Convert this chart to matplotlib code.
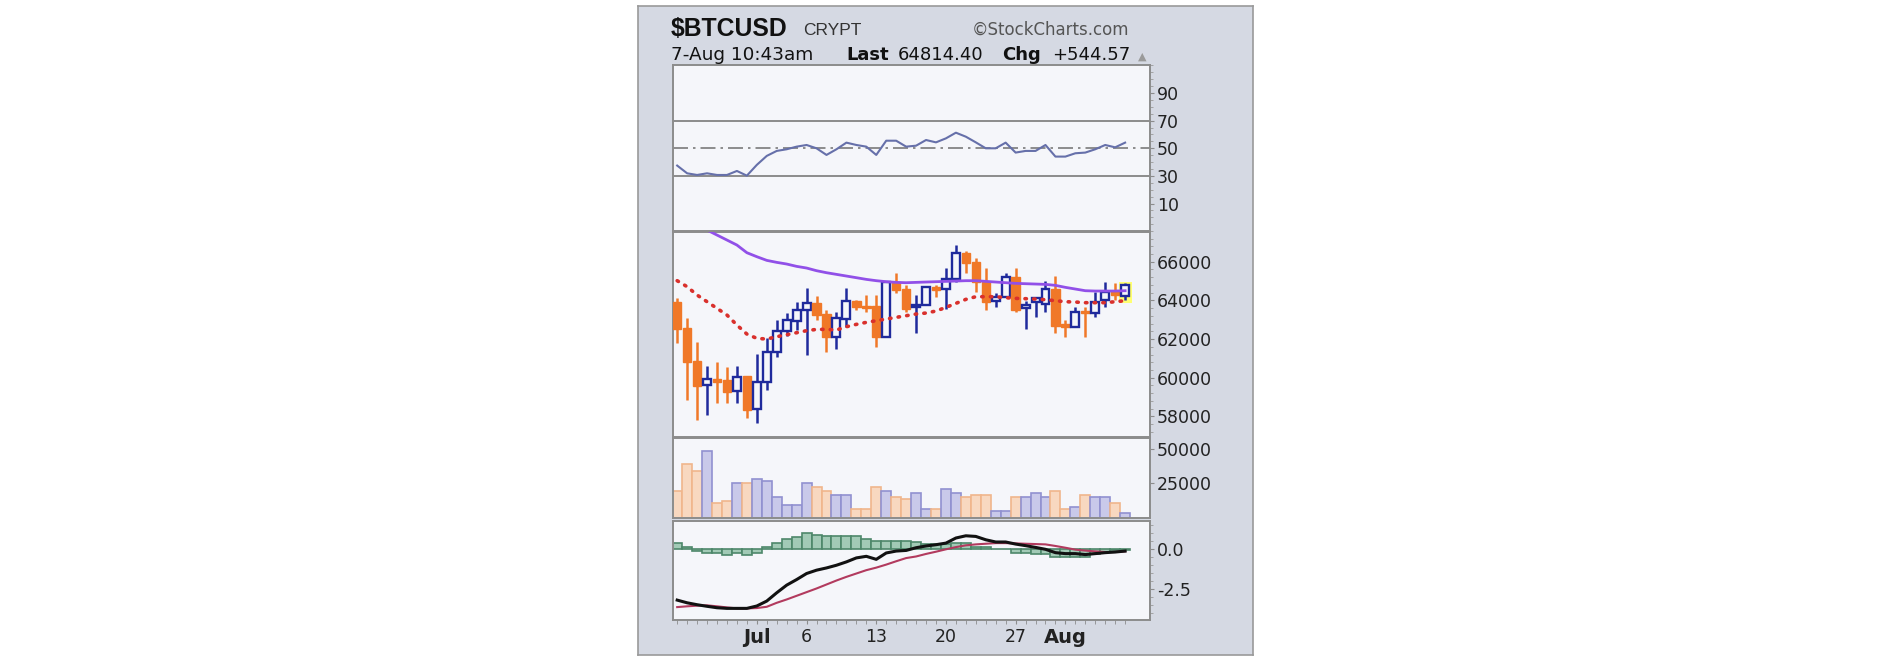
import matplotlib
matplotlib.use("Agg")
import matplotlib.pyplot as plt
import numpy as np
import pandas as pd
from matplotlib.patches import Rectangle
from matplotlib.ticker import FixedLocator, AutoMinorLocator, FuncFormatter

plt.rcParams["axes.unicode_minus"] = False
plt.rcParams["font.family"] = ["DejaVu Sans"]

# ---- data ----
dates = pd.date_range("2024-06-23", "2024-08-07", freq="D")

opens = [63931, 62552, 60880, 59621, 59932, 59880, 59328, 60087, 58380, 59794,
         61345, 62432, 62949, 63500, 63880, 63276, 62087, 63018, 63983, 63707,
         63707, 62087, 64931, 64569, 63638, 63759, 64673, 64587, 65104, 66466,
         65966, 64966, 63983, 64190, 65224, 63587, 63931, 63811, 64587, 62759,
         62638, 63449, 63362, 64018, 64483, 64230]
highs = [64104, 63069, 61863, 60604, 60794, 60570, 60604, 60087, 61225, 62035,
         62983, 63328, 63931, 64621, 64224, 63500, 63414, 64621, 64018, 64276,
         64276, 64966, 65431, 64793, 64276, 64673, 64793, 65655, 66862, 66569,
         66173, 65655, 64362, 65431, 65655, 63966, 64190, 65018, 65259, 62983,
         63673, 63673, 64414, 64931, 64880, 64900]
lows = [61776, 58846, 57811, 58070, 58673, 58673, 58673, 57897, 57639, 59363,
        61052, 62156, 62466, 61173, 62983, 61345, 61466, 62638, 63500, 63414,
        61570, 62087, 64362, 63414, 62294, 63759, 64190, 63552, 64931, 65397,
        64449, 63500, 63638, 64190, 63414, 62500, 63121, 63414, 62328, 62087,
        62638, 62087, 63121, 63638, 64018, 64018]
closes = [62500, 60828, 59587, 59932, 59794, 59277, 60052, 58328, 59794, 61345,
          62432, 62983, 63500, 63880, 63242, 62087, 63069, 63983, 63638, 63621,
          62087, 64931, 64535, 63552, 63759, 64673, 64535, 65104, 66466, 65948,
          64966, 63931, 64190, 65224, 63500, 63759, 64104, 64587, 62690, 62638,
          63414, 63362, 63931, 64449, 64270, 64814]

sma50 = [68328, 68069, 67810, 67638, 67379, 67121, 66862, 66466, 66259, 66069,
         65966, 65880, 65759, 65673, 65535, 65431, 65345, 65259, 65173, 65086,
         65018, 64966, 64931, 64914, 64931, 64949, 64966, 64983, 65000, 65018,
         65018, 64983, 64949, 64914, 64880, 64862, 64845, 64828, 64776, 64673,
         64587, 64500, 64483, 64483, 64483, 64500]
ema20 = [65017, 64707, 64276, 63931, 63587, 63242, 62725, 62259, 62035, 62000,
         62121, 62225, 62328, 62432, 62500, 62500, 62466, 62638, 62759, 62863,
         62949, 63035, 63121, 63207, 63293, 63345, 63449, 63638, 63845, 64052,
         64190, 64190, 64190, 64138, 64104, 64087, 64069, 64035, 63983, 63931,
         63914, 63880, 63880, 63880, 63931, 63983]

volume = [19521, 38560, 33981, 48441, 10845, 12291, 25305, 25305, 28438, 26992,
          15183, 9399, 9399, 25305, 22413, 19521, 16629, 16629, 6748, 6748,
          22413, 19521, 15183, 13737, 18075, 6507, 6507, 21208, 18075, 15183,
          16629, 16629, 5061, 5061, 15183, 15183, 18075, 15183, 19521, 6507,
          7953, 16629, 15183, 15183, 10845, 3615]

rsi = [37.5, 31.9, 30.7, 31.9, 30.7, 30.7, 33.6, 30.2, 38.0, 44.5,
       48.1, 49.3, 51.2, 52.4, 50.0, 45.2, 49.3, 54.1, 52.4, 51.2,
       45.2, 55.5, 55.5, 51.2, 51.9, 56.0, 54.3, 57.2, 61.3, 58.4,
       54.3, 50.0, 50.0, 54.1, 46.9, 48.1, 48.1, 52.4, 44.0, 44.0,
       46.4, 46.9, 49.3, 52.4, 50.7, 54.1]

macd = [-3.22, -3.39, -3.51, -3.61, -3.70, -3.74, -3.74, -3.74, -3.59, -3.28,
        -2.76, -2.28, -1.93, -1.55, -1.34, -1.20, -1.03, -0.82, -0.57, -0.47,
        -0.66, -0.26, -0.14, -0.10, 0.07, 0.18, 0.26, 0.36, 0.68, 0.82,
        0.78, 0.57, 0.43, 0.43, 0.30, 0.20, 0.09, -0.03, -0.24, -0.30,
        -0.30, -0.36, -0.30, -0.24, -0.20, -0.14]
signal = [-3.66, -3.61, -3.57, -3.55, -3.61, -3.68, -3.74, -3.74, -3.72, -3.64,
          -3.39, -3.18, -2.95, -2.72, -2.49, -2.24, -1.99, -1.76, -1.55, -1.34,
          -1.18, -0.99, -0.78, -0.58, -0.48, -0.32, -0.18, -0.03, 0.11, 0.22,
          0.28, 0.32, 0.36, 0.36, 0.34, 0.32, 0.30, 0.28, 0.18, 0.07,
          -0.05, -0.11, -0.16, -0.20, -0.20, -0.16]
hist = [0.39, 0.12, -0.14, -0.24, -0.24, -0.36, -0.24, -0.36, -0.24, 0.11,
        0.36, 0.64, 0.74, 0.99, 0.89, 0.78, 0.78, 0.78, 0.78, 0.64,
        0.49, 0.49, 0.49, 0.49, 0.45, 0.30, 0.30, 0.30, 0.35, 0.35,
        0.12, 0.12, 0.02, 0.02, -0.25, -0.25, -0.30, -0.30, -0.50, -0.50,
        -0.50, -0.50, -0.35, -0.20, -0.10, -0.05]

# ---- layout helpers (pixel boxes) ----
W, H = 1886, 662


def box(x0, y0, x1, y1):
    return [x0 / W, 1 - y1 / H, (x1 - x0) / W, (y1 - y0) / H]


PANEL_BG = "#f5f6fa"
FRAME_BG = "#d5d9e3"
EDGE = "#8c8c8c"
NAVY = "#1f2a9c"
ORANGE = "#f07828"

fig = plt.figure(figsize=(W / 100, H / 100), dpi=100)
fig.patch.set_facecolor("white")

frame = fig.add_axes(box(638, 6, 1253, 655))
frame.set_facecolor(FRAME_BG)
frame.set_xticks([])
frame.set_yticks([])
for s in frame.spines.values():
    s.set_color("#9a9a9a")
    s.set_linewidth(1.2)

X0, X1 = 672.7, 1150
ax_rsi = fig.add_axes(box(X0, 65.4, X1, 231.2))
ax_px = fig.add_axes(box(X0, 231.7, X1, 436.7))
ax_vol = fig.add_axes(box(X0, 437.7, X1, 518.2))
ax_macd = fig.add_axes(box(X0, 520.5, X1, 620))

n = len(closes)
idx = np.arange(n)

for ax in (ax_rsi, ax_px, ax_vol, ax_macd):
    ax.set_facecolor(PANEL_BG)
    ax.set_xlim(-0.45, 47.5)
    for s in ax.spines.values():
        s.set_color(EDGE)
        s.set_linewidth(1.4)
    ax.yaxis.tick_right()
    ax.tick_params(axis="y", which="major", direction="out", length=3, pad=2,
                   labelsize=12.5, colors="#8c8c8c", labelcolor="#222222")
    ax.tick_params(axis="y", which="minor", direction="out", length=2,
                   colors="#9a9a9a")
    ax.tick_params(axis="x", which="both", bottom=False, labelbottom=False)

# ---- RSI ----
ax_rsi.set_ylim(-10, 110)
ax_rsi.axhline(70, color=EDGE, lw=1.4)
ax_rsi.axhline(30, color=EDGE, lw=1.4)
ax_rsi.axhline(50, color="#7a7a7a", lw=1.2, ls=(0, (9, 3, 1.5, 3)))
ax_rsi.plot(idx, rsi, color="#6670aa", lw=1.5)
ax_rsi.yaxis.set_major_locator(FixedLocator([10, 30, 50, 70, 90]))
ax_rsi.yaxis.set_minor_locator(AutoMinorLocator(4))

# ---- price candles ----
ax_px.set_ylim(56949, 67552)
last = n - 1
ax_px.add_patch(Rectangle((last - 0.65, lows[last] - 150), 1.3,
                          highs[last] - lows[last] + 200,
                          facecolor="#ffff70", edgecolor="none", zorder=1))
for i in range(n):
    o, h, l, c = opens[i], highs[i], lows[i], closes[i]
    up = c > o
    col = NAVY if up else ORANGE
    ax_px.vlines(i, l, h, color=col, lw=1.8, zorder=2)
    lo = min(o, c)
    ht = max(abs(c - o), 40)
    if up:
        ax_px.bar(i, ht, bottom=lo, width=0.8, facecolor=PANEL_BG,
                  edgecolor=NAVY, lw=1.7, zorder=3)
    else:
        ax_px.bar(i, ht, bottom=lo, width=0.85, facecolor=ORANGE,
                  edgecolor=ORANGE, lw=1.0, zorder=3)

ax_px.plot(idx, sma50, color="#9150e8", lw=2.0, zorder=4)
ax_px.plot(idx, ema20, color="#d9302c", lw=2.6, ls=(0, (0.4, 2.0)),
           dash_capstyle="round", zorder=4)
ax_px.yaxis.set_major_locator(FixedLocator([58000, 60000, 62000, 64000, 66000]))
ax_px.yaxis.set_minor_locator(AutoMinorLocator(5))
ax_px.yaxis.set_major_formatter(FuncFormatter(lambda v, p: "%d" % v))

# ---- volume ----
ax_vol.set_ylim(0, 57800)
vface = ["#c9c9ea" if closes[i] > opens[i] else "#f8d8c0" for i in range(n)]
vedge = ["#9191d0" if closes[i] > opens[i] else "#f0b68c" for i in range(n)]
ax_vol.bar(idx, volume, width=1.0, color=vface, edgecolor=vedge, lw=1.2)
ax_vol.yaxis.set_major_locator(FixedLocator([25000, 50000]))
ax_vol.yaxis.set_minor_locator(FixedLocator([]))
ax_vol.yaxis.set_major_formatter(FuncFormatter(lambda v, p: "%d" % v))

# ---- MACD ----
ax_macd.set_ylim(-4.47, 1.78)
ax_macd.bar(idx, hist, width=1.0, color="#a2cab6", edgecolor="#4d876a", lw=1.2)
ax_macd.plot(idx, signal, color="#b23a5e", lw=1.5)
ax_macd.plot(idx, macd, color="#111111", lw=2.2)
ax_macd.yaxis.set_major_locator(FixedLocator([-2.5, 0.0]))
ax_macd.yaxis.set_minor_locator(AutoMinorLocator(5))
ax_macd.yaxis.set_major_formatter(FuncFormatter(lambda v, p: "%.1f" % v))

# date axis: month starts plus weekly July labels
tick_days = [d for d in dates
             if d.day == 1 or (d.month == 7 and d.day in (6, 13, 20, 27))]
tick_pos = [dates.get_loc(d) for d in tick_days]
tick_lab = [d.strftime("%b") if d.day == 1 else str(d.day) for d in tick_days]
ax_macd.set_xticks(tick_pos)
ax_macd.set_xticklabels(tick_lab)
ax_macd.set_xticks(idx, minor=True)
ax_macd.tick_params(axis="x", which="both", bottom=True, labelbottom=True,
                    direction="out", length=3, colors="#8c8c8c",
                    labelcolor="#222222", labelsize=12.5, pad=3)
for t in ax_macd.get_xticklabels():
    if t.get_text() in ("Jul", "Aug"):
        t.set_fontweight("bold")
        t.set_fontsize(14)

# ---- header ----
def fx(px):
    return px / W


def fy(py):
    return 1 - py / H


fig.text(fx(671), fy(35.5), "$BTCUSD", family=["Liberation Sans", "DejaVu Sans"],
         weight="bold", fontsize=17.8, color="#111111", va="baseline")
fig.text(fx(803), fy(35), "CRYPT", family=["Liberation Sans", "DejaVu Sans"],
         fontsize=12.5, color="#333333", va="baseline")
fig.text(fx(972), fy(35), "\u00a9StockCharts.com", fontsize=12, color="#555555",
         va="baseline")

fig.text(fx(671), fy(59.5), "7-Aug 10:43am", fontsize=13.3, color="#111111",
         va="baseline")
fig.text(fx(846), fy(59.5), "Last", fontsize=13, weight="bold",
         color="#111111", va="baseline")
fig.text(fx(898), fy(59.5), "64814.40", fontsize=13, color="#111111",
         va="baseline")
fig.text(fx(1002), fy(59.5), "Chg", fontsize=13, weight="bold",
         color="#111111", va="baseline")
fig.text(fx(1052), fy(59.5), "+544.57", fontsize=13, color="#111111",
         va="baseline")
fig.text(fx(1138), fy(59.5), "\u25b2", fontsize=8, color="#9a9a9a",
         va="baseline")

fig.savefig("out.png", dpi=100)
